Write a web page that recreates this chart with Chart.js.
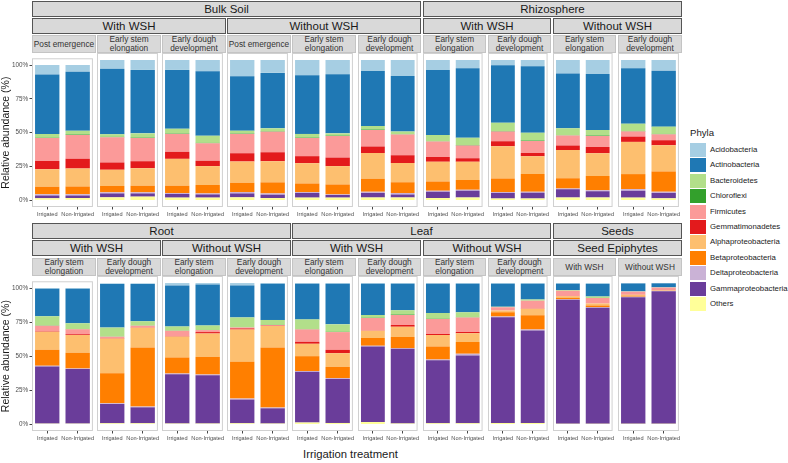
<!DOCTYPE html>
<html>
<head>
<meta charset="utf-8">
<script src="https://cdn.jsdelivr.net/npm/chart.js@4.4.1/dist/chart.umd.min.js"></script>
<style>
  body { margin: 0; background: #fff; width: 788px; height: 463px; position: relative; overflow: hidden;
         font-family: "Liberation Sans", Arial, sans-serif; color: #1a1a1a; }
  .strip { position: absolute; box-sizing: border-box; background: #d9d9d9; border: 1px solid #555;
           display: flex; align-items: center; justify-content: center; text-align: center;
           font-size: 11.5px; white-space: nowrap; }
  .strip.sub { border-color: #c4c4c4; font-size: 8.3px; line-height: 8.6px; color: #333; }
  canvas { position: absolute; }
  .key { position: absolute; width: 16px; height: 14px; left: 690px; }
  .klab { position: absolute; left: 710px; font-size: 7.8px; line-height: 14px; color: #1a1a1a; }
</style>
</head>
<body>
<script>
// phyla in legend order (top of stack first)
const phyla = ['Acidobacteria', 'Actinobacteria', 'Bacteroidetes', 'Chloroflexi', 'Firmicutes',
  'Gemmatimonadetes', 'Alphaproteobacteria', 'Betaproteobacteria', 'Deltaproteobacteria',
  'Gammaproteobacteria', 'Others'];
const phylaColors = ['#A6CEE3', '#1F78B4', '#B2DF8A', '#33A02C', '#FB9A99', '#E31A1C',
  '#FDBF6F', '#FF7F00', '#CAB2D6', '#6A3D9A', '#FFFF99'];
const treatments = ['Irrigated', 'Non-Irrigated'];
const yTicks = [0, 25, 50, 75, 100];

// relative abundance (%) per panel: [Irrigated, Non-Irrigated], values in phyla order
const bulkWithPost = [[7, 44, 2.7, 0.3, 17, 6, 13, 5.5, 1, 2, 1.5], [5, 43.6, 2.8, 0.3, 17.7, 7.1, 13.3, 5.7, 1, 1.9, 1.6]];
const bulkWithStem = [[6.2, 46.8, 1.9, 0.3, 18, 5.2, 11.6, 4.5, 0.8, 2.8, 1.9], [7.1, 45.3, 3, 0.3, 16.6, 5, 12.5, 4.7, 0.8, 2.3, 2.4]];
const bulkWithDough = [[7.1, 42, 3.4, 0.3, 12.8, 5, 19.2, 5.2, 0.7, 2.6, 1.7], [8.1, 46, 5.1, 0.3, 12.5, 3.8, 13.5, 6, 0.7, 2.3, 1.7]];
const bulkWithoutPost = [[11.6, 38.9, 2, 0.3, 13.8, 5.9, 15.2, 6.6, 1, 2.8, 1.9], [9.2, 39.6, 2.1, 0.3, 14.7, 6.4, 15.1, 7.9, 0.9, 2.4, 1.4]];
const bulkWithoutStem = [[10.9, 41.9, 2.6, 0.3, 13, 5, 14.5, 6.1, 0.7, 3.3, 1.7], [10.2, 42.2, 1.6, 0.3, 15.4, 6.1, 13.1, 7.1, 0.4, 1.9, 1.7]];
const bulkWithoutDough = [[7.8, 39.4, 2.5, 0.3, 11.8, 4.6, 18.4, 9.3, 0.9, 3.3, 1.7], [11.4, 39.6, 2, 0.3, 14.7, 5.5, 13.9, 7.6, 1, 2.3, 1.7]];
const rhizoWithStem = [[7.1, 46.5, 4.4, 0.3, 10.9, 3.5, 14, 6.7, 0.7, 4.5, 1.4], [5.9, 49.6, 5.3, 0.3, 9, 2.6, 13.1, 6.9, 0.7, 4.9, 1.7]];
const rhizoWithDough = [[3.8, 41, 5.9, 0.3, 7.1, 3.5, 23, 9.7, 0.7, 4, 1], [4.5, 47.4, 5.6, 0.3, 8.6, 2.3, 12.8, 12.6, 0.7, 4.2, 1]];
const rhizoWithoutStem = [[9.7, 39.1, 4.9, 0.3, 7.1, 3.1, 20.2, 7.3, 0.7, 5.9, 1.7], [10, 40, 4, 0.3, 7.8, 4.5, 16.3, 10.2, 0.7, 4.5, 1.7]];
const rhizoWithoutDough = [[5.9, 39.6, 5.2, 0.3, 3.7, 3.8, 23, 10.7, 1.2, 4.9, 1.7], [7.6, 40, 5.2, 0.3, 4.2, 3.6, 18.7, 14.5, 0.9, 3.8, 1.2]];
const rootWithStem = [[0.5, 20.2, 6.8, 0.2, 4, 0.3, 13.3, 11.8, 0.5, 41.9, 0.5], [0.5, 25.4, 4.1, 0.2, 3.7, 0.5, 13.2, 11.4, 0.5, 40, 0.5]];
const rootWithDough = [[0.5, 31, 6.4, 0.1, 1, 0.3, 24.6, 21.3, 0.5, 13.7, 0.5], [0.5, 26.5, 3.1, 0.1, 1.2, 0.2, 14, 42, 0.5, 11.3, 0.5]];
const rootWithoutStem = [[1.7, 29.1, 3, 0.1, 3.8, 0.3, 14.8, 11.4, 0.5, 35, 0.3], [1, 29.1, 3.2, 0.1, 1.4, 1, 16.6, 12.5, 0.5, 34.3, 0.3]];
const rootWithoutDough = [[1.7, 22.7, 7, 0.1, 0.7, 0.8, 22.9, 26.1, 0.7, 16.8, 0.5], [0.5, 25.7, 3.5, 0.1, 0.5, 0.2, 15.2, 42.7, 0.5, 10.8, 0.3]];
const leafWithStem = [[0.5, 25.3, 6.9, 0.2, 8.8, 1.4, 8.8, 10.5, 0.5, 36.1, 1], [0.5, 28.8, 5.3, 0.2, 12.6, 2.4, 9.7, 7.9, 0.7, 31.2, 0.7]];
const leafWithDough = [[0.5, 22.1, 2, 0.2, 8.8, 0.3, 5.1, 5.5, 0.5, 53.6, 1.4], [0.5, 18.8, 3.1, 0.2, 7.2, 1.2, 7.3, 7.9, 0.5, 53, 0.3]];
const leafWithoutStem = [[0.5, 20.7, 4.1, 0.2, 10.7, 0.7, 8.1, 9.3, 0.5, 44.7, 0.5], [0.5, 20.2, 3.6, 0.2, 10.3, 0.9, 6.2, 8.3, 1.2, 48.1, 0.5]];
const leafWithoutDough = [[0.5, 16.3, 0.3, 0.1, 2.2, 0.1, 1.2, 3.1, 0.5, 75, 0.7], [0.5, 11.1, 0.9, 0.1, 5.5, 0.2, 4.6, 10, 0.7, 65.7, 0.7]];
const seedsWith = [[0.5, 4.5, 0.4, 0, 3.8, 0.1, 1.2, 1, 0.3, 88, 0.2], [0.6, 9, 1.1, 0, 3.8, 0.1, 1.4, 1.2, 0.3, 82.3, 0.2]];
const seedsWithout = [[0.3, 5.6, 0.2, 0, 2.1, 0.1, 0.7, 0.7, 0.3, 89.8, 0.2], [0.2, 2.8, 0.2, 0, 1.6, 0.1, 0.4, 0.2, 0.3, 94, 0.2]];

const rows = [
  {
    y1: 1, y2: 18, y3: 35, panelTop: 53, panelBottom: 207,
    level1: [['Bulk Soil', 0, 5], ['Rhizosphere', 6, 9]],
    level2: [['With WSH', 0, 2], ['Without WSH', 3, 5], ['With WSH', 6, 7], ['Without WSH', 8, 9]],
    panels: [
      ['Post emergence', bulkWithPost], ['Early stem<br>elongation', bulkWithStem], ['Early dough<br>development', bulkWithDough],
      ['Post emergence', bulkWithoutPost], ['Early stem<br>elongation', bulkWithoutStem], ['Early dough<br>development', bulkWithoutDough],
      ['Early stem<br>elongation', rhizoWithStem], ['Early dough<br>development', rhizoWithDough],
      ['Early stem<br>elongation', rhizoWithoutStem], ['Early dough<br>development', rhizoWithoutDough]
    ]
  },
  {
    y1: 223, y2: 240, y3: 258, panelTop: 276, panelBottom: 431,
    level1: [['Root', 0, 3], ['Leaf', 4, 7], ['Seeds', 8, 9]],
    level2: [['With WSH', 0, 1], ['Without WSH', 2, 3], ['With WSH', 4, 5], ['Without WSH', 6, 7], ['Seed Epiphytes', 8, 9]],
    panels: [
      ['Early stem<br>elongation', rootWithStem], ['Early dough<br>development', rootWithDough],
      ['Early stem<br>elongation', rootWithoutStem], ['Early dough<br>development', rootWithoutDough],
      ['Early stem<br>elongation', leafWithStem], ['Early dough<br>development', leafWithDough],
      ['Early stem<br>elongation', leafWithoutStem], ['Early dough<br>development', leafWithoutDough],
      ['With WSH', seedsWith], ['Without WSH', seedsWithout]
    ]
  }
];

const panelLeft = i => Math.round(32 + i * 65.1);
const panelRight = i => Math.round(32 + i * 65.1 + 63.6);

function addStrip(text, x0, x1, y, h, cls) {
  const d = document.createElement('div');
  d.className = cls;
  d.innerHTML = text;
  Object.assign(d.style, { left: x0 + 'px', top: y + 'px', width: (x1 - x0) + 'px', height: h + 'px' });
  document.body.appendChild(d);
}

// grey border around each facet panel
const panelBorder = {
  id: 'panelBorder',
  afterDatasetsDraw(chart) {
    const { ctx, chartArea: a } = chart;
    ctx.save();
    ctx.strokeStyle = '#d0d0d0';
    ctx.lineWidth = 1;
    ctx.strokeRect(a.left + 0.5, a.top + 0.5, a.right - a.left - 1, a.bottom - a.top - 1);
    ctx.restore();
  }
};

function drawPanel(row, i, values) {
  const withY = i === 0;
  const left = withY ? 0 : panelLeft(i);
  const canvas = document.createElement('canvas');
  const w = panelRight(i) - left;
  const h = row.panelBottom - row.panelTop + 16;
  canvas.width = w; canvas.height = h;
  Object.assign(canvas.style, { left: left + 'px', top: row.panelTop + 'px', width: w + 'px', height: h + 'px' });
  document.body.appendChild(canvas);

  // first dataset sits at the bottom of the stack, so go from Others upward
  const datasets = phyla.map((name, k) => ({
    label: name,
    data: values.map(v => v[k]),
    backgroundColor: phylaColors[k],
    borderWidth: 0,
    categoryPercentage: 1,
    barPercentage: 0.8
  })).reverse();

  new Chart(canvas, {
    type: 'bar',
    data: { labels: treatments, datasets },
    options: {
      responsive: false,
      animation: false,
      layout: { padding: 0 },
      plugins: { legend: { display: false }, tooltip: { enabled: false } },
      scales: {
        x: {
          stacked: true,
          grid: { display: true, drawOnChartArea: false, drawTicks: true, tickLength: 2.5, color: '#444', offset: false },
          border: { display: false },
          ticks: { font: { size: 5.6, family: 'Liberation Sans' }, color: '#4d4d4d', padding: 2,
                   autoSkip: false, maxRotation: 0, minRotation: 0 },
          afterFit: s => { s.height = 16; }
        },
        y: {
          stacked: true,
          display: withY,
          min: -5,
          max: 105,
          grid: { display: true, drawOnChartArea: false, drawTicks: true, tickLength: 2.5, color: '#444' },
          border: { display: false },
          afterBuildTicks: s => { s.ticks = yTicks.map(v => ({ value: v })); },
          ticks: { font: { size: 6.3, family: 'Liberation Sans' }, color: '#4d4d4d', padding: 1.5,
                   callback: v => v + '%' },
          title: { display: true, text: 'Relative abundance (%)', color: '#1a1a1a',
                   font: { size: 10.5, family: 'Liberation Sans' }, padding: { top: 0, bottom: 0 } },
          afterFit: s => { s.width = withY ? 32 : 0; }
        }
      }
    },
    plugins: [panelBorder]
  });
}

rows.forEach(row => {
  row.level1.forEach(([t, a, b]) => addStrip(t, panelLeft(a), panelRight(b), row.y1, 16, 'strip'));
  row.level2.forEach(([t, a, b]) => addStrip(t, panelLeft(a), panelRight(b), row.y2, 16, 'strip'));
  row.panels.forEach(([t, values], i) => {
    addStrip(t, panelLeft(i), panelRight(i), row.y3, row.panelTop - row.y3, 'strip sub');
    drawPanel(row, i, values);
  });
});

// legend
const legendTitle = document.createElement('div');
Object.assign(legendTitle.style, { position: 'absolute', left: '690px', top: '127px', fontSize: '9.6px' });
legendTitle.textContent = 'Phyla';
document.body.appendChild(legendTitle);
phyla.forEach((name, k) => {
  const top = 143 + k * 15.4;
  const key = document.createElement('div');
  key.className = 'key';
  key.style.top = top + 'px';
  key.style.background = phylaColors[k];
  document.body.appendChild(key);
  const lab = document.createElement('div');
  lab.className = 'klab';
  lab.style.top = top + 'px';
  lab.textContent = name;
  document.body.appendChild(lab);
});

// shared x-axis title
const xTitle = document.createElement('div');
Object.assign(xTitle.style, { position: 'absolute', left: '303px', top: '449px', fontSize: '11.3px', lineHeight: '11.3px' });
xTitle.textContent = 'Irrigation treatment';
document.body.appendChild(xTitle);
</script>
</body>
</html>
